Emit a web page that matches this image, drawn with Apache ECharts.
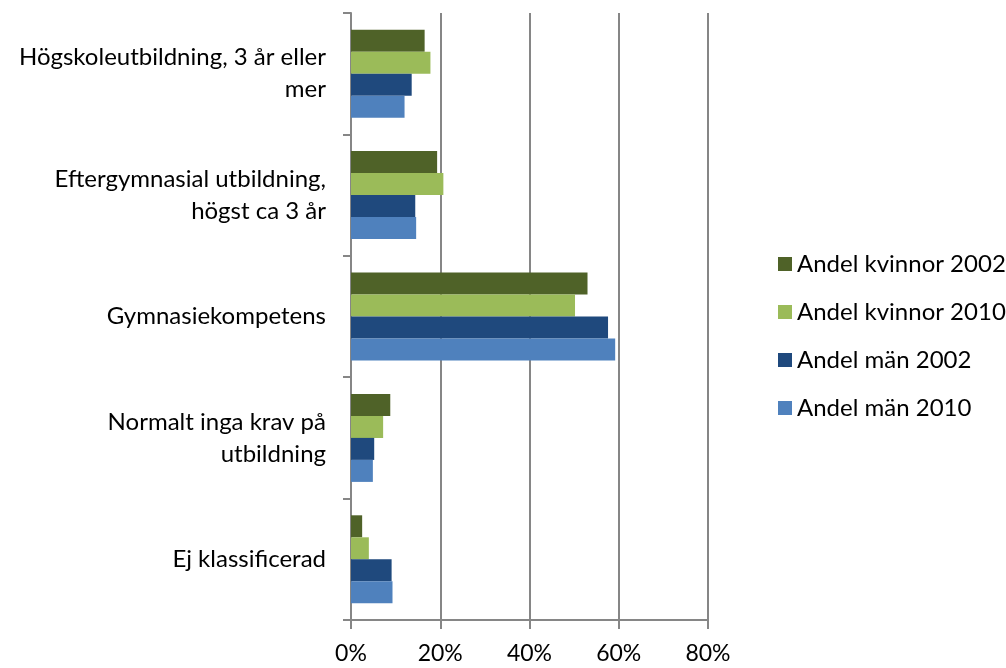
<!DOCTYPE html>
<html>
<head>
<meta charset="utf-8">
<script src="https://cdn.jsdelivr.net/npm/echarts@6/dist/echarts.min.js"></script>
<style>
  html, body { margin: 0; padding: 0; background: #fff; }
  #chart { width: 1006px; height: 668px; }
</style>
</head>
<body>
<div id="chart"></div>
<script>
// kategorier, uppifrån och ned
var categories = [
  'Högskoleutbildning, 3 år eller\nmer',
  'Eftergymnasial utbildning,\nhögst ca 3 år',
  'Gymnasiekompetens',
  'Normalt inga krav på\nutbildning',
  'Ej klassificerad'
];
var seriesNames = ['Andel kvinnor 2002', 'Andel kvinnor 2010', 'Andel män 2002', 'Andel män 2010'];
var kvinnor2002 = [16.5, 19.3, 53.0, 8.8, 2.5];
var kvinnor2010 = [17.8, 20.7, 50.2, 7.2, 4.0];
var man2002 = [13.6, 14.4, 57.6, 5.2, 9.1];
var man2010 = [12.0, 14.6, 59.2, 4.9, 9.3];
var xTicks = [0, 20, 40, 60, 80];

var colors = ['#4F6228', '#9BBB59', '#1F497D', '#4F81BD'];
var font = 'Lato, "Open Sans", sans-serif';

var chart = echarts.init(document.getElementById('chart'));
var values = [kvinnor2002, kvinnor2010, man2002, man2010];

var option = {
  animation: false,
  color: colors,
  grid: { left: 351, right: 298, top: 13, bottom: 48 },
  legend: {
    orient: 'vertical',
    left: 773,
    top: 245,
    data: seriesNames,
    icon: 'rect',
    itemWidth: 14,
    itemHeight: 14,
    itemGap: 20,
    textStyle: { fontFamily: font, fontSize: 24, color: '#000', lineHeight: 28, padding: [0, 0, 0, 0] }
  },
  xAxis: {
    type: 'value',
    min: xTicks[0],
    max: xTicks[xTicks.length - 1],
    interval: 20,
    axisLine: { show: true, lineStyle: { color: '#868686', width: 2 } },
    axisTick: { show: true, length: 9, lineStyle: { color: '#868686', width: 2 } },
    splitLine: { show: true, lineStyle: { color: '#868686', width: 2 } },
    axisLabel: {
      fontFamily: font, fontSize: 23, color: '#000', margin: 22,
      formatter: function (v) { return v + '%'; }
    }
  },
  yAxis: {
    type: 'category',
    inverse: true,
    data: categories,
    axisLine: { show: true, lineStyle: { color: '#868686', width: 2 } },
    axisTick: { show: true, length: 8, lineStyle: { color: '#868686', width: 2 } },
    axisLabel: {
      fontFamily: font, fontSize: 24, color: '#000', margin: 25,
      lineHeight: 32, align: 'right'
    }
  },
  series: seriesNames.map(function (name, i) {
    return {
      name: name,
      type: 'bar',
      data: values[i],
      barWidth: 22,
      barGap: '0%',
      itemStyle: { color: colors[i] }
    };
  })
};
chart.setOption(option);
</script>
</body>
</html>
